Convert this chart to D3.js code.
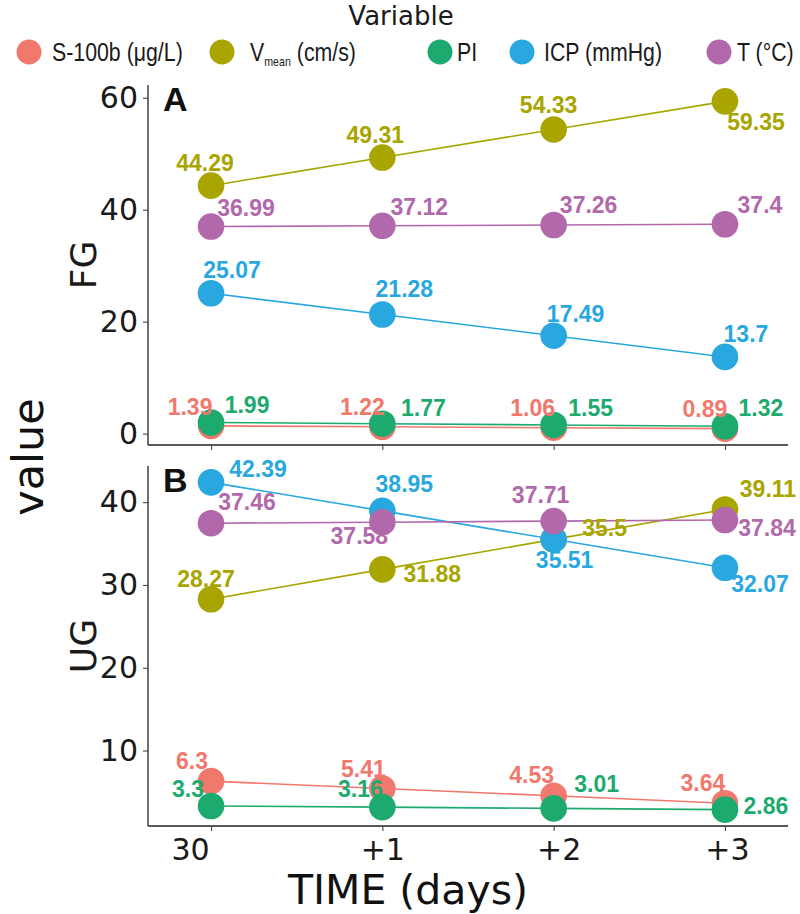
<!DOCTYPE html>
<html>
<head>
<meta charset="utf-8">
<script src="https://cdn.jsdelivr.net/npm/d3@7"></script>
<style>
  html, body { margin: 0; padding: 0; background: #ffffff; }
  svg { display: block; }
</style>
</head>
<body>
<svg id="chart" width="800" height="914"></svg>
<script>
// ---------------- DATA ----------------
const categories = ["30", "+1", "+2", "+3"];
const variables = ["S-100b", "Vmean", "PI", "ICP", "T"];
const groups = ["FG", "UG"];
const panelLetters = ["A", "B"];

const fgS100b = [1.39, 1.22, 1.06, 0.89];
const fgVmean = [44.29, 49.31, 54.33, 59.35];
const fgPI    = [1.99, 1.77, 1.55, 1.32];
const fgICP   = [25.07, 21.28, 17.49, 13.7];
const fgT     = [36.99, 37.12, 37.26, 37.4];

const ugS100b = [6.3, 5.41, 4.53, 3.64];
const ugVmean = [28.27, 31.88, 35.5, 39.11];
const ugPI    = [3.3, 3.16, 3.01, 2.86];
const ugICP   = [42.39, 38.95, 35.51, 32.07];
const ugT     = [37.46, 37.58, 37.71, 37.84];

const fgTicks = [0, 20, 40, 60];
const ugTicks = [10, 20, 30, 40];

// ---------------- STYLE / LAYOUT ----------------
const colors = {
  "S-100b": "#F1786D",
  "Vmean":  "#A8A500",
  "PI":     "#1DAA6E",
  "ICP":    "#29A8E0",
  "T":      "#B169AB"
};

// label offsets (px) relative to each point: [dx, dy baseline]
const labelOffsets = {
  FG: {
    "S-100b": [[-21,-11],[-20,-12],[-21,-12],[-20,-12]],
    "Vmean":  [[-6,-15],[-7,-15],[-5,-16],[31,29]],
    "PI":     [[36,-9],[41,-8],[37,-9],[36,-10]],
    "ICP":    [[21,-15],[22,-17],[22,-14],[21,-15]],
    "T":      [[35,-11],[37,-11],[35,-12],[35,-11]]
  },
  UG: {
    "S-100b": [[-19,-12],[-19,-12],[-22,-13],[-22,-12]],
    "Vmean":  [[-5,-12],[50,13],[51,-3],[43,-13]],
    "PI":     [[-23,-9],[-22,-10],[43,-16],[41,4]],
    "ICP":    [[47,-5],[22,-19],[11,29],[35,24]],
    "T":      [[36,-13],[-23,22],[-13,-18],[42,16]]
  }
};

const panelData = {
  FG: { "S-100b": fgS100b, "Vmean": fgVmean, "PI": fgPI, "ICP": fgICP, "T": fgT },
  UG: { "S-100b": ugS100b, "Vmean": ugVmean, "PI": ugPI, "ICP": ugICP, "T": ugT }
};
const panelTicks = { FG: fgTicks, UG: ugTicks };
const panelBox = { FG: [85, 445], UG: [466, 826] };

const left = 148, right = 788;
const axisFont = "'DejaVu Sans', Verdana, sans-serif";
const labelFont = "'Liberation Sans', Arial, Helvetica, sans-serif";
const pointR = 13.3;

const svg = d3.select("#chart");

const x = d3.scalePoint().domain(categories).range([left, right]).padding(0.368);

groups.forEach((g, gi) => {
  const [top, bottom] = panelBox[g];
  const all = variables.flatMap(v => panelData[g][v]);
  const mn = d3.min(all), mx = d3.max(all);
  const pad = (mx - mn) * 0.05;
  const y = d3.scaleLinear().domain([mn - pad, mx + pad]).range([bottom, top]);

  const panel = svg.append("g");

  const ya = panel.append("g")
    .attr("transform", `translate(${left},0)`)
    .call(d3.axisLeft(y).tickValues(panelTicks[g]).tickSize(5).tickSizeOuter(0).tickPadding(5));
  const xa = panel.append("g")
    .attr("transform", `translate(0,${bottom})`)
    .call(d3.axisBottom(x).tickSize(5).tickSizeOuter(0).tickPadding(8));

  [ya, xa].forEach(a => {
    a.select(".domain").attr("stroke", "#222").attr("stroke-width", 1.3);
    a.selectAll(".tick line").attr("stroke", "#444").attr("stroke-width", 1.1);
    a.selectAll(".tick text").attr("fill", "#1a1a1a")
      .style("font-family", axisFont).style("font-size", "30px");
  });
  ya.select(".domain").attr("d", `M0,${top}V${bottom}`);
  xa.select(".domain").attr("d", `M${left},0H${right}`);

  if (g === "UG") {
    const tickDx = [-21, 0, 5, 2];
    xa.selectAll(".tick text").attr("dx", (d, i) => tickDx[i]);
  } else {
    xa.selectAll(".tick text").remove();
  }

  const line = d3.line().x((d, i) => x(categories[i])).y(d => y(d));
  variables.forEach(v => {
    panel.append("path")
      .datum(panelData[g][v])
      .attr("d", line)
      .attr("fill", "none")
      .attr("stroke", colors[v])
      .attr("stroke-width", 1.6);
  });
  variables.forEach(v => {
    panel.append("g").selectAll("circle")
      .data(panelData[g][v])
      .join("circle")
      .attr("cx", (d, i) => x(categories[i]))
      .attr("cy", d => y(d))
      .attr("r", pointR)
      .attr("fill", colors[v]);
  });
  variables.forEach(v => {
    panel.append("g").selectAll("text")
      .data(panelData[g][v])
      .join("text")
      .attr("x", (d, i) => x(categories[i]) + labelOffsets[g][v][i][0])
      .attr("y", (d, i) => y(d) + labelOffsets[g][v][i][1])
      .attr("text-anchor", "middle")
      .attr("fill", colors[v])
      .style("font-family", labelFont)
      .style("font-weight", "bold")
      .style("font-size", "23px")
      .text(d => String(d));
  });

  panel.append("text")
    .attr("x", 163)
    .attr("y", top + 26)
    .style("font-family", labelFont)
    .style("font-weight", "bold")
    .style("font-size", "34px")
    .attr("fill", "#111")
    .text(panelLetters[gi]);

  panel.append("text")
    .attr("transform", `translate(96,${(top + bottom) / 2}) rotate(-90)`)
    .attr("text-anchor", "middle")
    .style("font-family", axisFont)
    .style("font-size", "36px")
    .attr("fill", "#1a1a1a")
    .text(g);
});

svg.append("text")
  .attr("transform", "translate(43,457) rotate(-90)")
  .attr("text-anchor", "middle")
  .style("font-family", axisFont)
  .style("font-size", "43px")
  .attr("fill", "#111")
  .text("value");

svg.append("text")
  .attr("x", 408).attr("y", 904)
  .attr("text-anchor", "middle")
  .style("font-family", axisFont)
  .style("font-size", "41px")
  .attr("fill", "#111")
  .text("TIME (days)");

// ---------------- LEGEND ----------------
const legendLabels = ["S-100b (\u03bcg/L)", "V", "PI", "ICP (mmHg)", "T (\u00b0C)"];
const legendX = [29, 222, 440, 522, 719];
const legendTextX = [52, 250, 457, 544, 737];
svg.append("text")
  .attr("x", 401).attr("y", 25)
  .attr("text-anchor", "middle")
  .style("font-family", axisFont)
  .style("font-size", "26px")
  .attr("fill", "#1a1a1a")
  .text("Variable");

const leg = svg.append("g");
variables.forEach((v, i) => {
  leg.append("circle")
    .attr("cx", legendX[i]).attr("cy", 52).attr("r", 12.5)
    .attr("fill", colors[v]);
  const t = leg.append("text")
    .attr("transform", `translate(${legendTextX[i]},61) scale(0.82,1)`)
    .style("font-family", "'Liberation Sans', Arial, sans-serif")
    .style("font-size", "26px")
    .attr("fill", "#1a1a1a");
  if (v === "Vmean") {
    t.append("tspan").text("V");
    t.append("tspan").attr("dy", 5).style("font-size", "13px").text("mean");
    t.append("tspan").attr("dy", -5).text(" (cm/s)");
  } else {
    t.text(legendLabels[i]);
  }
});
</script>
</body>
</html>
